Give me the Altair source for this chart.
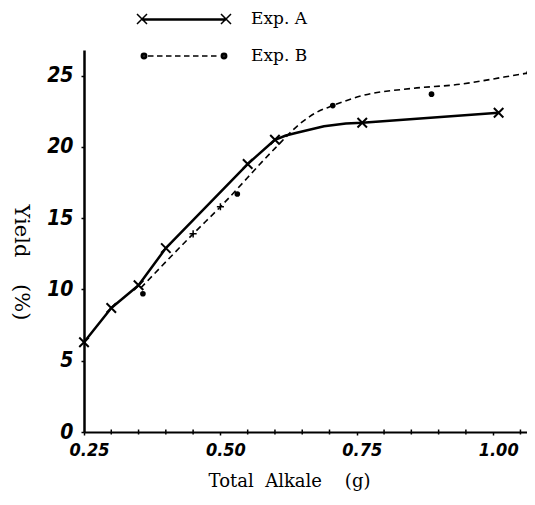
import altair as alt
import pandas as pd

# ---- data ----
a_x = [0.25, 0.30, 0.35, 0.40, 0.55, 0.60, 0.76, 1.01]
a_y = [6.3, 8.7, 10.3, 12.9, 18.8, 20.5, 21.7, 22.4]
# vertices of the drawn solid curve (includes the bend after 0.60)
a_line_x = [0.25, 0.30, 0.35, 0.40, 0.55, 0.60, 0.62, 0.64, 0.69, 0.73, 0.76, 1.01]
a_line_y = [6.3, 8.7, 10.3, 12.9, 18.8, 20.5, 20.8, 21.0, 21.45, 21.65, 21.7, 22.4]

b_x = [0.358, 0.531, 0.706, 0.887, 1.066]
b_y = [9.7, 16.7, 22.9, 23.7, 25.2]
# small marks printed on the dashed line
b_mark_x = [0.45, 0.50]
b_mark_y = [13.9, 15.8]
# vertices of the drawn dashed curve
b_line_x = [0.354, 0.45, 0.50, 0.60, 0.645, 0.675, 0.706, 0.76, 0.85, 0.94, 1.02, 1.066]
b_line_y = [10.1, 13.9, 15.8, 19.9, 21.6, 22.4, 22.9, 23.6, 24.1, 24.4, 24.9, 25.2]

series = ["Exp. A", "Exp. B"]
x_labels = [0.25, 0.50, 0.75, 1.00]
x_minor = [0.30, 0.35, 0.40, 0.45, 0.55, 0.60, 0.65, 0.70,
           0.80, 0.85, 0.90, 0.95, 1.05]
y_ticks = [0, 5, 10, 15, 20, 25]

NB = "\u00a0"
x_title = "Total" + NB * 2 + "Alkale" + NB * 4 + "(g)"
y_title = "Yield" + NB * 4 + "(%)"

# ---- styles ----
X_PATH = "M-1,-1L1,1M-1,1L1,-1"
PLUS_PATH = "M-1,0H1M0,-1V1"
leg_a = ("M-4.7,-0.5L-3.7,0.5M-4.7,0.5L-3.7,-0.5"
         "M-4.2,0H4.2M-4.2,0.1H4.2"
         "M3.7,-0.5L4.7,0.5M3.7,0.5L4.7,-0.5")


def dot(cx):
    s = ""
    for r in (0.12, 0.27):
        s += f"M{cx - r:.2f},0A{r},{r} 0 1,0 {cx + r:.2f},0A{r},{r} 0 1,0 {cx - r:.2f},0"
    return s


dashes = "".join(f"M{-3.6 + i*0.9:.2f},0H{-3.6 + i*0.9 + 0.55:.2f}" for i in range(8))
leg_b = dot(-4.0) + dashes + dot(4.0)

W, H = 443, 382
XD = [0.25, 1.062]
YD = [0, 26.8]

LABEL_FONT = "Liberation Sans Narrow, DejaVu Sans Condensed, DejaVu Sans"
TITLE_FONT = "DejaVu Serif"

xs = alt.Scale(domain=XD, nice=False, zero=False)
ys = alt.Scale(domain=YD, nice=False, zero=False)

x_axis = alt.Axis(
    values=x_labels, format=".2f", title=x_title,
    labelOverlap=False, labelFlush=False, labelOffset=5,
    labelFont=LABEL_FONT, labelFontStyle="italic", labelFontSize=18, labelFontWeight="bold",
    labelColor="black", tickColor="black", tickSize=3, tickWidth=1.5,
    domainColor="black", domainWidth=2, grid=False, labelPadding=6,
    titleFont=TITLE_FONT, titleFontSize=18, titleFontWeight="normal", titleColor="black",
    titleX=205, titleY=40, titleBaseline="top", titleAlign="center",
)
y_axis = alt.Axis(
    values=y_ticks, title=y_title, labelOverlap=False, labelFlush=False,
    labelFont=LABEL_FONT, labelFontStyle="italic", labelFontSize=21, labelFontWeight="bold",
    labelColor="black", tickColor="black", tickSize=3, tickWidth=1.5,
    domainColor="black", domainWidth=2.5, grid=False, labelPadding=8,
    titleFont=TITLE_FONT, titleFontSize=21, titleFontWeight="normal", titleColor="black",
    titleAngle=90, titleX=-64, titleY=212, titleAlign="center", titleBaseline="middle",
)

df_a = pd.DataFrame({"x": a_x, "y": a_y})
df_al = pd.DataFrame({"x": a_line_x, "y": a_line_y})
df_b = pd.DataFrame({"x": b_x, "y": b_y})
df_bm = pd.DataFrame({"x": b_mark_x, "y": b_mark_y})
df_bl = pd.DataFrame({"x": b_line_x, "y": b_line_y})
df_minor = pd.DataFrame({"x": x_minor, "y": [0] * len(x_minor)})
df_leg = pd.DataFrame({"series": series})

a_line = alt.Chart(df_al).mark_line(color="black", strokeWidth=2.5, strokeJoin="round").encode(
    x=alt.X("x:Q", scale=xs, axis=x_axis),
    y=alt.Y("y:Q", scale=ys, axis=y_axis),
)
minor_ticks = alt.Chart(df_minor).mark_tick(color="black", thickness=1.5, size=5, opacity=1).encode(
    x="x:Q", y="y:Q")
a_pts = alt.Chart(df_a).mark_point(shape=X_PATH, size=90, strokeWidth=2, color="black", opacity=1).encode(
    x="x:Q", y="y:Q")
b_line = alt.Chart(df_bl).mark_line(color="black", strokeWidth=1.6, strokeDash=[6, 4],
                                    interpolate="monotone").encode(x="x:Q", y="y:Q")
b_pts = alt.Chart(df_b).mark_point(shape="circle", filled=True, size=32, color="black", opacity=1).encode(
    x="x:Q", y="y:Q")
b_marks = alt.Chart(df_bm).mark_point(shape=PLUS_PATH, size=50, strokeWidth=1.5, color="black",
                                      opacity=1).encode(x="x:Q", y="y:Q")

legend_layer = alt.Chart(df_leg).transform_filter("false").mark_point(
    filled=False, color="black", strokeWidth=1.5, opacity=1
).encode(
    shape=alt.Shape("series:N", scale=alt.Scale(domain=series, range=[leg_a, leg_b]),
                    legend=alt.Legend(
                        orient="none", legendX=89, legendY=-42, title=None,
                        symbolSize=400, symbolStrokeWidth=1.5,
                        symbolStrokeColor="black", symbolOpacity=1,
                        labelFont=TITLE_FONT, labelFontSize=17, labelColor="black",
                        labelOffset=56, rowPadding=18, padding=0)),
)

chart = alt.layer(a_line, minor_ticks, b_line, a_pts, b_pts, b_marks, legend_layer).properties(
    width=W, height=H,
    autosize=alt.AutoSizeParams(type="none"),
    padding={"left": 76, "top": 42, "right": 0, "bottom": 60},
    background="white",
).configure_view(stroke=None)

chart.save("out.html", embed_options={"renderer": "svg", "actions": False})
